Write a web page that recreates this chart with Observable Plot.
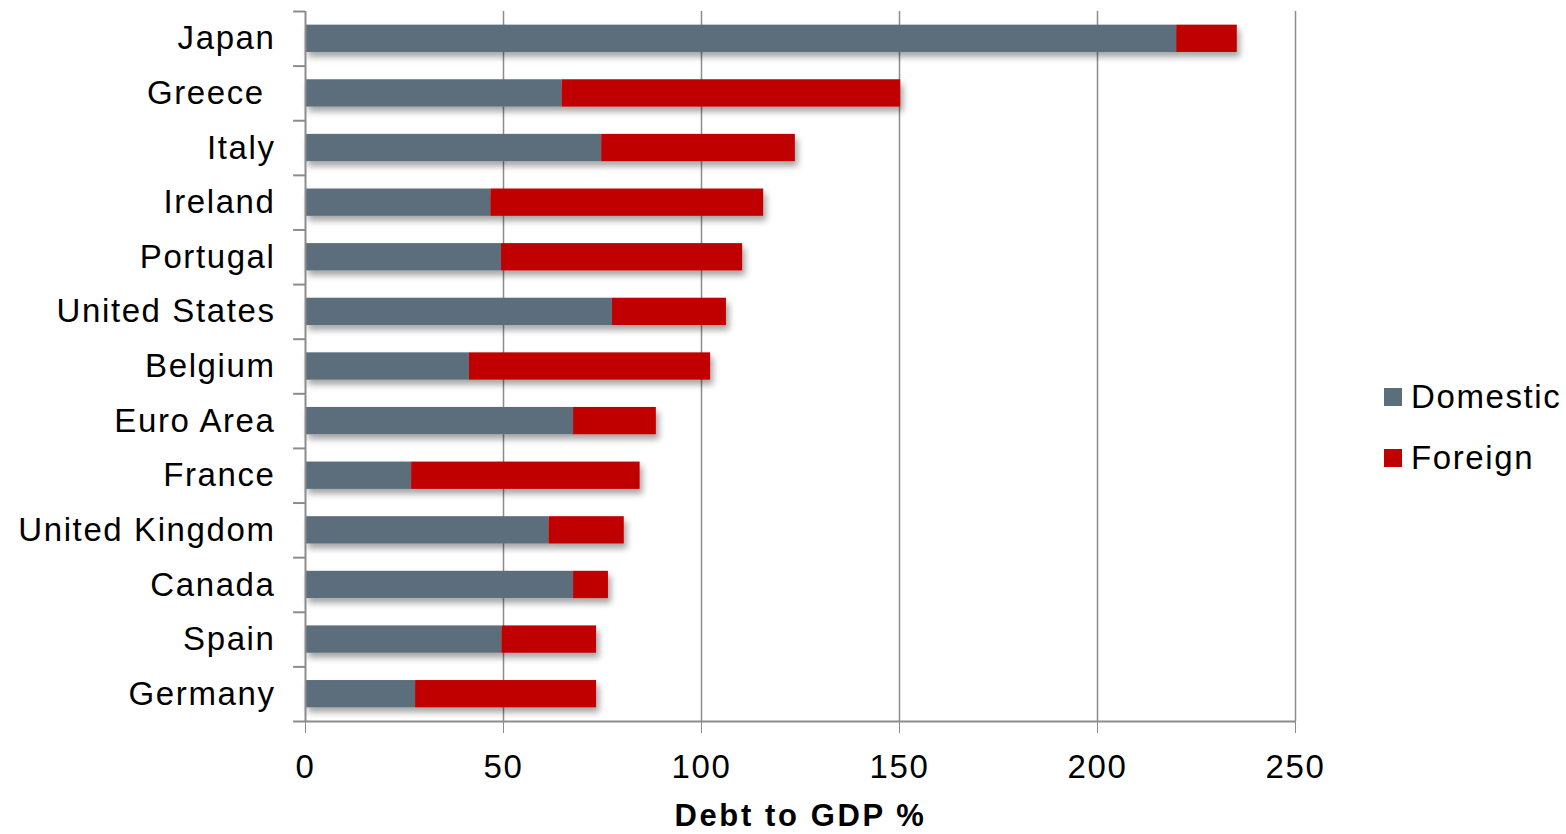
<!DOCTYPE html>
<html><head><meta charset="utf-8">
<script src="https://cdn.jsdelivr.net/npm/d3@7"></script>
<script src="https://cdn.jsdelivr.net/npm/@observablehq/plot@0.6"></script>
<style>
body{margin:0;background:#fff;font-family:"Liberation Sans",Arial,sans-serif;}
#wrap{position:relative;width:1566px;height:834px;overflow:hidden;}
#wrap svg text{letter-spacing:1.6px;}
.legend{position:absolute;left:1384px;font-size:33px;line-height:36px;letter-spacing:1.6px;display:flex;align-items:center;color:#000;white-space:nowrap;}
.sw{width:18px;height:18px;margin-right:9px;flex:none;}
</style></head><body><div id="wrap"></div>
<script>
const countries = ["Japan","Greece\u00a0","Italy","Ireland","Portugal","United States","Belgium","Euro Area","France","United Kingdom","Canada","Spain","Germany"];
const domestic = [220, 64.8, 74.8, 46.8, 49.5, 77.5, 41.4, 67.7, 26.8, 61.5, 67.7, 49.6, 27.8];
const foreign  = [15.3, 85.5, 48.9, 68.9, 60.9, 28.8, 60.9, 20.9, 57.7, 19.0, 8.8, 23.9, 45.7];
const seriesNames = ["Domestic","Foreign"];
const seriesColors = ["#5b6e7c","#c00000"];
const xTicks = [0,50,100,150,200,250];
const axisTitle = "Debt to GDP %";

const rows = countries.flatMap((c,i)=>[
  {country:c, series:seriesNames[0], value:domestic[i]},
  {country:c, series:seriesNames[1], value:foreign[i]}
]);

const W=1566, H=834, mt=11, mb=113, ml=305, mr=271;
const step=(H-mt-mb)/countries.length;
const grey="#8c8c8c";

const chart = Plot.plot({
  width:W, height:H, marginTop:mt, marginBottom:mb, marginLeft:ml, marginRight:mr,
  style:{fontFamily:"'Liberation Sans', Arial, sans-serif", fontSize:"33px", color:"#000", background:"white", overflow:"visible"},
  x:{domain:[0,250]},
  y:{domain:countries, paddingInner:0.5, paddingOuter:0.25, round:false},
  color:{domain:seriesNames, range:seriesColors},
  marks:[
    Plot.ruleX(xTicks.filter(d=>d>0), {stroke:grey, strokeWidth:1.5}),
    Plot.barX(rows, Plot.stackX({x:"value", y:"country", fill:"series"})),
    Plot.ruleX([0], {stroke:grey, strokeWidth:2}),
    Plot.ruleY(countries.slice(0,1), {y:d=>d, x1:-3, x2:0, dy:-step/2, stroke:grey, strokeWidth:2}),
    Plot.ruleY(countries.slice(0,-1), {y:d=>d, x1:-3, x2:0, dy:step/2, stroke:grey, strokeWidth:2}),
    Plot.ruleY(countries.slice(-1), {y:d=>d, x1:-3, x2:250, dy:step/2, stroke:grey, strokeWidth:2}),
    Plot.axisX({ticks:xTicks, tickSize:12, tickPadding:21, stroke:grey, fill:"#000", label:null, tickFormat:d=>String(d)}),
    Plot.axisY({tickSize:0, tickPadding:30, label:null, fill:"#000"}),
    Plot.text([axisTitle], {frameAnchor:"bottom", dy:95, text:d=>d, fontWeight:"bold", fontSize:31, fill:"#000", lineAnchor:"middle"})
  ]
});

// drop shadow on bars
const svg = d3.select(chart);
const defs = svg.insert("defs", ":first-child");
const f = defs.append("filter").attr("id","barShadow").attr("x","-5%").attr("y","-30%").attr("width","115%").attr("height","180%");
f.append("feDropShadow").attr("dx",3).attr("dy",5).attr("stdDeviation",3).attr("flood-color","#000").attr("flood-opacity",0.35);
svg.selectAll('g[aria-label="bar"]').attr("filter","url(#barShadow)");
svg.selectAll('g[aria-label="text"] text').style("letter-spacing","2.6px");

const wrap = document.getElementById("wrap");
wrap.appendChild(chart);

// legend (right side)
const legendTops = [379, 440];
seriesNames.forEach((name,i)=>{
  const d = document.createElement("div");
  d.className="legend";
  d.style.top = legendTops[i]+"px";
  const sw = document.createElement("span");
  sw.className="sw"; sw.style.background = seriesColors[i];
  d.appendChild(sw);
  d.appendChild(document.createTextNode(name));
  wrap.appendChild(d);
});
</script>
</body></html>
